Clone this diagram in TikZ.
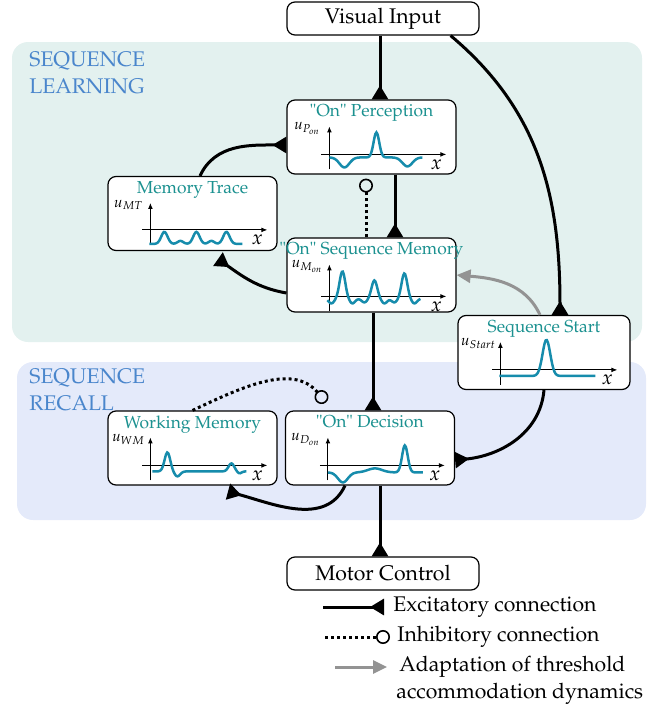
\documentclass[tikz,border=0pt]{standalone}
\usepackage[T1]{fontenc}
\usepackage{mathpazo}
\usepackage{tikz}
\usetikzlibrary{arrows.meta, calc, positioning}

\definecolor{learnbg}{RGB}{227,241,239}
\definecolor{recallbg}{RGB}{228,234,250}
\definecolor{areablue}{RGB}{74,134,204}
\definecolor{titleteal}{RGB}{27,145,144}
\definecolor{curveblue}{RGB}{22,140,172}

\tikzset{
	declare function={g(\xx,\cc,\ww)=exp(-((\xx-\cc)/\ww)*((\xx-\cc)/\ww));},
}

% axes of a field plot, in the local frame of a box
\newcommand{\plotaxes}[3]{%
	\draw[axis] (43,{-#1-15}) -- (43,-27);
	\draw[axis] (35,-#1) -- (160,-#1);
	\node[ulabel] (#3-u) at (21,-29) {#2};
	\node[xlabel] (#3-x) at (150,{-#1-10}) {$x$};
}

\begin{document}
\begin{tikzpicture}[
		x=0.5pt, y=0.5pt,
		box/.style={draw, rounded corners=4pt, fill=white, line width=0.6pt, inner sep=0pt},
		field/.style={box, minimum width=84.5pt, minimum height=37pt},
		io/.style={box, minimum width=96pt, minimum height=16.5pt, font=\fontsize{10.6}{12}\selectfont},
		title/.style={text=titleteal, font=\fontsize{8.7}{10}\selectfont, inner sep=1pt},
		area/.style={text=areablue, align=left, font=\fontsize{10.6}{13.5}\selectfont, inner sep=0pt},
		legend/.style={font=\fontsize{10.6}{12}\selectfont, inner sep=0pt},
		ulabel/.style={font=\fontsize{7.5}{8}\selectfont, inner sep=0pt},
		xlabel/.style={font=\fontsize{10}{12}\selectfont, inner sep=0pt},
		excit/.style={line width=1.5pt, -{Triangle[reversed, width=8pt, length=7pt]}},
		inhib/.style={line width=1.5pt, dash pattern=on 1.5pt off 1.5pt, -{Circle[open, length=7pt, line width=0.8pt]}},
		adapt/.style={line width=1.5pt, gray!85, -{Triangle[width=6.5pt, length=7pt]}},
		axis/.style={line width=0.5pt, -{Latex[length=3pt, width=2.4pt]}},
		curve/.style={curveblue, line width=1.25pt, smooth},
		]
		\useasboundingbox (0,0) rectangle (667,-712);
		
		% Les zones
		\fill[learnbg, rounded corners=8pt] (12,-42) rectangle (642,-342);
		\fill[recallbg, rounded corners=8pt] (17,-362) rectangle (646,-520);
		\node[area, anchor=north west] (learn) at (29,-51) {SEQUENCE\\LEARNING};
		\node[area, anchor=north west] (recall) at (29,-368) {SEQUENCE\\RECALL};
		
		% Les champs
		\node[io] (vis) at (383,-18.5) {Visual Input};
		\node[field] (perc) at (371.5,-137) {};
		\node[field] (mtr) at (192.5,-213.5) {};
		\node[field] (seqm) at (371.5,-275) {};
		\node[field, minimum width=86pt] (start) at (544,-352.5) {};
		\node[field] (wm) at (192.5,-448) {};
		\node[field] (dec) at (370,-448) {};
		\node[io] (motor) at (383,-573.5) {Motor Control};
		
		\node[title, below=1.5pt of perc.north] (perc-t) {\textquotedbl On\textquotedbl\ Perception};
		\node[title, below=1.5pt of mtr.north] (mtr-t) {Memory Trace};
		\node[title, below=1.5pt of seqm.north] (seqm-t) {\textquotedbl On\textquotedbl\ Sequence Memory};
		\node[title, below=1.5pt of start.north] (start-t) {Sequence Start};
		\node[title, below=1.5pt of wm.north] (wm-t) {Working Memory};
		\node[title, below=1.5pt of dec.north] (dec-t) {\textquotedbl On\textquotedbl\ Decision};
		
		% Les courbes
		\begin{scope}[shift={(perc.north west)}]
			\plotaxes{55}{$u_{P_{on}}$}{perc}
			\draw[curve] plot[domain=43:136, samples=90] (\x, {-(58 + 10*g(\x,58,7) - 25*g(\x,90,4) + 9*g(\x,121,7))});
		\end{scope}
		\begin{scope}[shift={(mtr.north west)}]
			\plotaxes{54}{$u_{MT}$}{mtr}
			\draw[curve] plot[domain=42:135, samples=90] (\x, {-(68 - 12*g(\x,57,4.5) - 12*g(\x,89,4.5) - 12*g(\x,119,4.5) - 3*g(\x,73,4) - 3*g(\x,104,4))});
		\end{scope}
		\begin{scope}[shift={(seqm.north west)}]
			\plotaxes{59}{$u_{M_{on}}$}{seqm}
			\draw[curve] plot[domain=41:134, samples=110] (\x, {-(61 - 27*g(\x,56,4) - 18*g(\x,88,4) - 25*g(\x,118,4) + 5*g(\x,45,4) + 5*g(\x,66,4) + 4*g(\x,78,4) + 5*g(\x,98,4) + 4*g(\x,108,4) + 5*g(\x,128,4))});
		\end{scope}
		\begin{scope}[shift={(start.north west)}]
			\plotaxes{55}{$u_{Start}$}{start}
			\draw[curve] plot[domain=42:138, samples=90] (\x, {-(61 - 36*g(\x,89,5.5))});
		\end{scope}
		\begin{scope}[shift={(wm.north west)}]
			\plotaxes{55}{$u_{WM}$}{wm}
			\draw[curve] plot[domain=45:139, samples=90] (\x, {-(61 - 19*g(\x,60,4) + 5*g(\x,70,4) - 8*g(\x,124,4) + 2*g(\x,132,3))});
		\end{scope}
		\begin{scope}[shift={(dec.north west)}]
			\plotaxes{55}{$u_{D_{on}}$}{dec}
			\draw[curve] plot[domain=43:138, samples=90] (\x, {-(62 + 10*g(\x,58,7) - 4*g(\x,90,10) - 27*g(\x,120,4))});
		\end{scope}
		
		% Les connexions
		\draw[excit] ([xshift=-1.5pt]vis.south) -- ([xshift=-1.5pt]vis.south |- perc.north);
		\draw[excit] ([xshift=11.75pt]perc.south) -- ([xshift=11.75pt]seqm.north);
		\draw[inhib, shorten >=2pt] ([xshift=-2.75pt]seqm.north) -- ([xshift=-2.75pt]perc.south);
		\draw[excit] ([xshift=3.75pt]mtr.north) to[out=65, in=180] ([yshift=-4pt]perc.west);
		\draw[excit] ([yshift=-9pt]seqm.west) to[out=170, in=-35] ([xshift=12.75pt, yshift=-4pt]mtr.south);
		\draw[excit] ([xshift=-14.5pt]vis.south east) to[out=-40, in=90] ([xshift=8pt]start.north);
		\draw[adapt] ([xshift=-2pt]start.north) to[out=115, in=-5] (seqm.east);
		\draw[excit] ([xshift=0.75pt]seqm.south) -- ([xshift=0.75pt]seqm.south |- dec.north);
		\draw[excit] (start.south) to[out=-95, in=5] ([yshift=-6pt]dec.east);
		\draw[excit] ([xshift=-12.5pt]dec.south) to[out=-115, in=-15] ([xshift=17.75pt, yshift=-3pt]wm.south);
		\draw[inhib] (wm.north) to[out=25, in=130] ([xshift=-22pt, yshift=4pt]dec.north);
		\draw[excit] ([xshift=5pt]dec.south) -- ([xshift=5pt]dec.south |- motor.north);
		
		% La légende
		\node[legend, anchor=west] (ex) at (393,-607) {Excitatory connection};
		\node[legend, anchor=west] (in) at (397,-637) {Inhibitory connection};
		\node[legend, anchor=west] (ad1) at (399,-667) {Adaptation of threshold};
		\node[legend, anchor=west] (ad2) at (396,-694) {accommodation dynamics};
		\coordinate (ex-s) at (323,-607);
		\coordinate (in-s) at (325,-637);
		\coordinate (ad-s) at (335,-667);
		\draw[excit] (ex-s) -- ([xshift=-4.5pt]ex.west);
		\draw[inhib] (in-s) -- ([xshift=-3.5pt]in.west);
		\draw[adapt] (ad-s) -- ([xshift=-6pt]ad1.west);
	\end{tikzpicture}
\end{document}
